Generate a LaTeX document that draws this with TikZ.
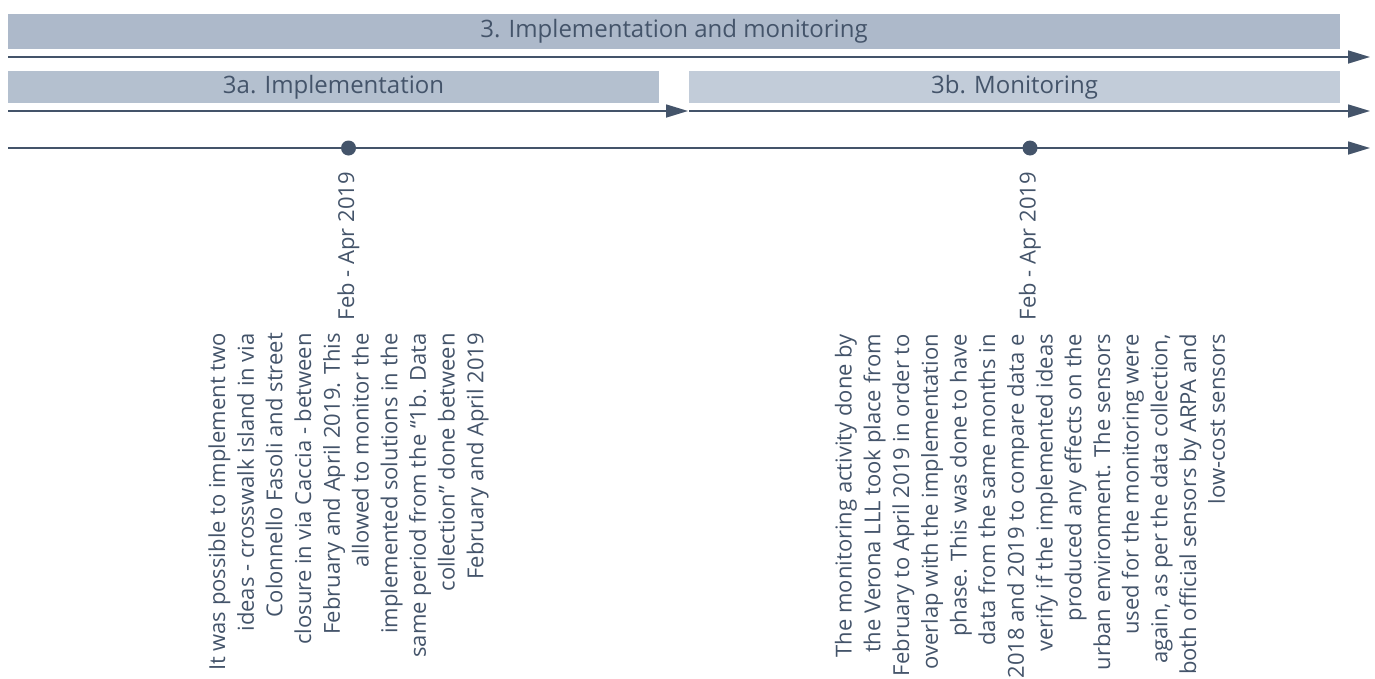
\documentclass[tikz,border=0pt]{standalone}
\usepackage{fontspec}
\setmainfont{Open Sans}
\usetikzlibrary{arrows.meta}
\definecolor{slate}{HTML}{44546A}
\definecolor{barmain}{HTML}{ADB9CA}
\definecolor{barleft}{HTML}{B4C0CF}
\definecolor{barright}{HTML}{C2CCD9}
\tikzset{
  phasebar/.style={rectangle, inner sep=0pt, text=slate,
    font=\fontsize{24}{28}\selectfont},
  flow/.style={draw=slate, line width=1.6pt,
    -{Triangle[length=22pt,width=13pt]}},
  plain/.style={draw=slate, line width=1.6pt},
  milestone/.style={circle, fill=slate, inner sep=0pt, minimum size=15pt},
  datelabel/.style={rotate=90, anchor=east, inner sep=0pt, text=slate,
    font=\fontsize{22}{28.7}\selectfont},
  desc/.style={rotate=90, anchor=east, inner sep=0pt, text=slate, align=right,
    font=\fontsize{22}{28.7}\selectfont}
}
\begin{document}
\begin{tikzpicture}[x=1pt,y=-1pt]
\useasboundingbox (0,0) rectangle (1375,678);
\clip (0,0) rectangle (1375,678);

% phase bars
\node[phasebar, fill=barmain, minimum width=1332pt, minimum height=35pt]
  (phase) at (674,31.5) {3. Implementation and monitoring};
\node[phasebar, fill=barleft, minimum width=651pt, minimum height=32pt]
  (impl) at (333.5,87) {3a. Implementation};
\node[phasebar, fill=barright, minimum width=651pt, minimum height=32pt]
  (moni) at (1014.5,87) {3b. Monitoring};

% timeline arrows
\coordinate (ps) at (8,57);
\coordinate (pe) at (1370,57);
\coordinate (is) at (8,111);
\coordinate (ie) at (688,111);
\coordinate (ms) at (689,111);
\coordinate (me) at (1370,111);
\coordinate (ts) at (8,148);
\coordinate (te) at (1370,148);
\draw[flow] (ps) -- (pe);
\draw[flow] (is) -- (ie);
\draw[flow] (ms) -- (me);
\draw[flow] (ts) -- (te);

% milestones
\node[milestone] (m1) at (348.5,148) {};
\node[milestone] (m2) at (1030,148) {};

\node[datelabel] (d1) at (348.5,172) {Feb - Apr 2019};
\node[datelabel] (d2) at (1030,172) {Feb - Apr 2019};

\node[desc] (t1) at (348.5,333) {It was possible to implement two\\
ideas - crosswalk island in via\\
Colonnello Fasoli and street\\
closure in via Caccia - between\\
February and April 2019. This\\
allowed to monitor the\\
implemented solutions in the\\
same period from the “1b. Data\\
collection” done between\\
February and April 2019};

\node[desc] (t2) at (1030,334) {The monitoring activity done by\\
the Verona LLL took place from\\
February to April 2019 in order to\\
overlap with the implementation\\
phase. This was done to have\\
data from the same months in\\
2018 and 2019 to compare data e\\
verify if the implemented ideas\\
produced any effects on the\\
urban environment. The sensors\\
used for the monitoring were\\
again, as per the data collection,\\
both official sensors by ARPA and\\
low-cost sensors};
\end{tikzpicture}
\end{document}
